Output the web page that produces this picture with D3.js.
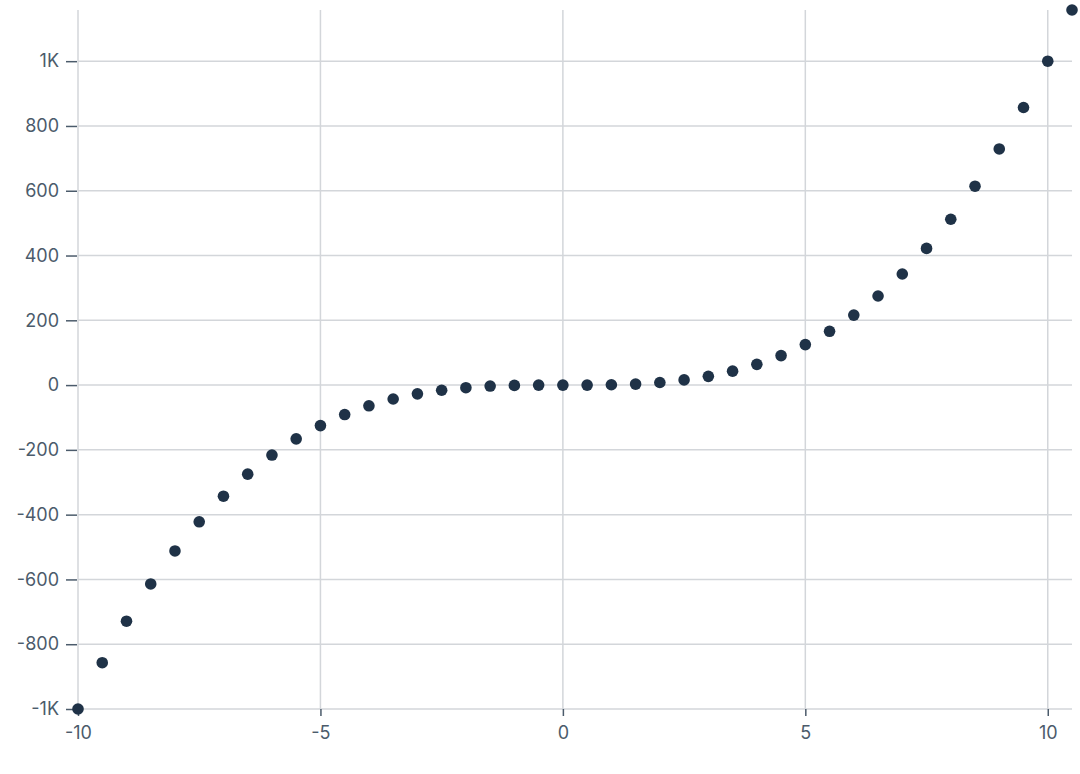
<!DOCTYPE html>
<html>
<head>
<meta charset="utf-8">
<script src="https://cdn.jsdelivr.net/npm/d3@7"></script>
<style>
  body { margin: 0; background: #fff; }
  svg text { font-family: Inter, "Noto Sans", sans-serif; }
</style>
</head>
<body>
<svg width="1080" height="774"></svg>
<script>
// x values and the values
const xs = [-10, -9.5, -9, -8.5, -8, -7.5, -7, -6.5, -6, -5.5, -5, -4.5, -4, -3.5, -3, -2.5, -2, -1.5, -1, -0.5,
  0, 0.5, 1, 1.5, 2, 2.5, 3, 3.5, 4, 4.5, 5, 5.5, 6, 6.5, 7, 7.5, 8, 8.5, 9, 9.5, 10, 10.5];
const ys = [-1000, -857, -729, -614, -512, -422, -343, -275, -216, -166, -125, -91, -64, -43, -27, -16, -8, -3, -1, 0,
  0, 0, 1, 3, 8, 16, 27, 43, 64, 91, 125, 166, 216, 275, 343, 422, 512, 614, 729, 857, 1000, 1158];
const xTicks = [-10, -5, 0, 5, 10];
const yTicks = [-1000, -800, -600, -400, -200, 0, 200, 400, 600, 800, 1000];

const svg = d3.select('svg');
const mLeft = 78, mRight = 1072, mTop = 10, mBottom = 709;
const grid = '#d3d6da', ink = '#4b5b6b', dot = '#1f3247';

const x = d3.scaleLinear().domain([-10, 10.5]).range([mLeft, mRight]);
const y = d3.scaleLinear().domain([-1000, 1158]).range([mBottom, mTop]);
const fmt = v => v === 0 ? '0' : d3.format('~s')(v).replace('k', 'K').replace('−', '-');

// grid
svg.append('g').selectAll('line').data(yTicks).join('line')
  .attr('x1', mLeft).attr('x2', mRight)
  .attr('y1', d => y(d)).attr('y2', d => y(d))
  .attr('stroke', grid).attr('stroke-width', 1.5);
svg.append('g').selectAll('line').data(xTicks).join('line')
  .attr('x1', d => x(d)).attr('x2', d => x(d))
  .attr('y1', mTop).attr('y2', mBottom)
  .attr('stroke', grid).attr('stroke-width', 1.5);

// y axis
const yAxis = d3.axisLeft(y).tickValues(yTicks).tickFormat(fmt).tickSize(11).tickPadding(7);
svg.append('g').attr('transform', `translate(${mLeft - 1},0)`).call(yAxis)
  .call(g => g.select('.domain').remove())
  .call(g => g.selectAll('line').attr('stroke', ink).attr('stroke-width', 1.5))
  .call(g => g.selectAll('text').attr('fill', ink).style('font-size', '18px'));

// x axis
const xAxis = d3.axisBottom(x).tickValues(xTicks).tickFormat(d => String(d)).tickSize(7).tickPadding(10);
svg.append('g').attr('transform', `translate(0,${mBottom})`).call(xAxis)
  .call(g => g.select('.domain').remove())
  .call(g => g.selectAll('line').attr('stroke', ink).attr('stroke-width', 1.5))
  .call(g => g.selectAll('text').attr('fill', ink).style('font-size', '18px'));

// points
svg.append('g').selectAll('circle').data(xs).join('circle')
  .attr('cx', d => x(d)).attr('cy', (d, i) => y(ys[i]))
  .attr('r', 5.8).attr('fill', dot);
</script>
</body>
</html>
